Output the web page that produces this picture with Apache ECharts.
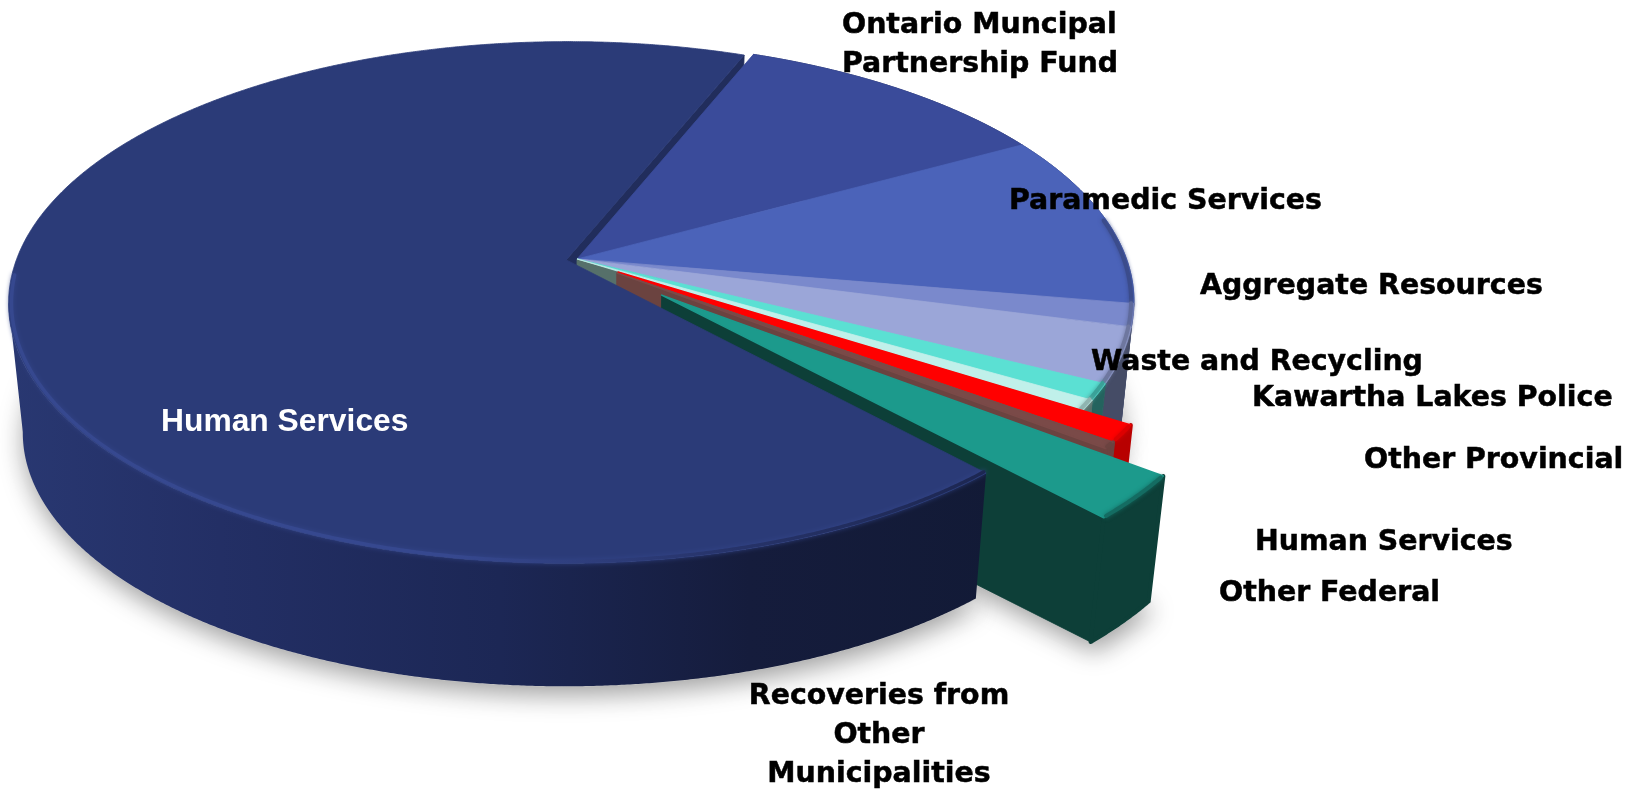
<!DOCTYPE html>
<html>
<head>
<meta charset="utf-8">
<style>html,body{margin:0;padding:0;background:#fff}#chart{width:1627px;height:794px}</style>
<script src="https://cdn.jsdelivr.net/npm/echarts@6/dist/echarts.min.js"></script>
</head>
<body>
<div id="chart"></div>
<script>
// Revenue shares in percent, clockwise
const names = ['Human Services', 'Ontario Muncipal Partnership Fund', 'Paramedic Services', 'Aggregate Resources',
  'Waste and Recycling', 'Kawartha Lakes Police', 'Other Provincial', 'Human Services', 'Other Federal',
  'Recoveries from Other Municipalities'];
const shares = [67.8, 10.9, 10.8, 1.4, 3.4, 1.0, 0.6, 1.0, 0.4, 2.7];
const explode = [0.02, 0, 0, 0, 0, 0, 0, 0.09, 0.09, 0.205];
const topColors = ['#2b3b78', '#3a4b9a', '#4b63b9', '#7a89cc', '#9ba6d8', '#5be0d3', '#c0f0ea', '#ff0000', '#7a4a48', '#1c9a8c'];
const wallColors = ['#1b2650', '#252f5c', '#2d3b6f', '#4a5270', '#454c66', '#24635e', '#56706a', '#b80000', '#6b4340', '#0d3f38'];
const rimColors = ['#3a4d96', '#3a4b9a', '#3b4c8c', '#5e6a9c', '#6e779f', '#3aa198', '#8fb4b0', '#dd0000', '#6b4340', '#146c62'];
const drawOrder = [1, 2, 3, 4, 5, 6, 7, 8, 9, 0];

// Text placed around the pie
const labelLines = [
  [['Ontario Muncipal', 'Partnership Fund'], 842, 26, 'left'],
  [['Paramedic Services'], 1009, 202, 'left'],
  [['Aggregate Resources'], 1200, 287, 'left'],
  [['Waste and Recycling'], 1091, 363, 'left'],
  [['Kawartha Lakes Police'], 1252, 399, 'left'],
  [['Other Provincial'], 1364, 461, 'left'],
  [['Human Services'], 1255, 543, 'left'],
  [['Other Federal'], 1219, 594, 'left'],
  [['Recoveries from', 'Other', 'Municipalities'], 879, 697, 'center']
];
const mainLabel = ['Human Services', 161, 422];

// Disk projection: a tilted circle seen in perspective, with a lower copy for the base
const hub = [577, 259];
const radiusX = 549.5, radiusY = 253.6, tilt = 0.163;
const baseScale = 0.975, thickness = 130.6;
const startAngle = 47.62;
const RAD = Math.PI / 180;
const leftTangent = 180 - Math.asin(tilt) / RAD;

function project(X, Y, base) {
  const w = 1 / (1 - tilt * Y);
  const px = radiusX * X * w, py = radiusY * Y * w;
  return base
    ? [hub[0] + px * baseScale, hub[1] + py * baseScale + thickness]
    : [hub[0] + px, hub[1] + py];
}

function sliceAngles() {
  const total = shares.reduce((a, b) => a + b, 0);
  const out = [];
  let a = startAngle;
  shares.forEach(v => {
    const b = a + v / total * 360;
    out.push([a, b]);
    a = b;
  });
  return out;
}
const angles = sliceAngles();

function offsetOf(i) {
  const mid = (angles[i][0] + angles[i][1]) / 2 * RAD;
  return [explode[i] * Math.cos(mid), explode[i] * Math.sin(mid)];
}
function rimPoints(i, from, to, base, r) {
  const off = offsetOf(i), pts = [];
  const n = Math.max(2, Math.ceil(Math.abs(to - from) * 4));
  const R = r || 1;
  for (let k = 0; k <= n; k++) {
    const t = (from + (to - from) * k / n) * RAD;
    pts.push(project(off[0] + R * Math.cos(t), off[1] + R * Math.sin(t), base));
  }
  return pts;
}
function apex(i, base) {
  const off = offsetOf(i);
  return project(off[0], off[1], base);
}
function poly(points, fill, z2, extra) {
  const plain = typeof fill === 'string';
  return {
    type: 'polygon', z2, silent: true, shape: { points },
    style: Object.assign({ fill, stroke: plain ? fill : null, lineWidth: plain ? 0.8 : 0 }, extra || {})
  };
}
function radialWall(i, angle, color, z2) {
  const rimTop = rimPoints(i, angle, angle + 0.01, false)[0];
  const rimBase = rimPoints(i, angle, angle + 0.01, true)[0];
  return poly([apex(i, false), rimTop, rimBase, apex(i, true)], color, z2);
}

function renderSlice(params, api) {
  const i = params.dataIndex;
  const rank = drawOrder.indexOf(i);
  const z = 20 + rank * 10;
  const [a0, a1] = angles[i];
  const children = [];

  // Soft ground shadow under the base of the slice
  const base = [apex(i, true)].concat(rimPoints(i, a0, a1, true));
  children.push(poly(base, '#c9c9c9', 1, {
    shadowBlur: 26, shadowColor: 'rgba(0,0,0,0.38)', shadowOffsetX: 2, shadowOffsetY: 8
  }));

  if (i === 0) {
    // Cut face seen in the gap next to the Ontario slice
    children.push(radialWall(0, a1, '#212d5c', 5));
    const top = rimPoints(0, a0, leftTangent, false);
    const bottom = rimPoints(0, a0, leftTangent, true).reverse();
    const sideFill = new echarts.graphic.LinearGradient(0, 0, 1000, 0, [
      { offset: 0, color: '#293872' }, { offset: 0.22, color: '#232f65' },
      { offset: 0.5, color: '#1c2755' }, { offset: 0.75, color: '#151c3c' }, { offset: 1, color: '#121a36' }
    ], true);
    children.push(poly(top.concat(bottom), sideFill, z));
    children.push(poly([apex(0, false)].concat(rimPoints(0, a0, a1, false)), topColors[0], z + 1));
    const bevel = new echarts.graphic.LinearGradient(0, 0, 1000, 0, [
      { offset: 0, color: '#36488f' }, { offset: 0.45, color: '#36488f' },
      { offset: 0.72, color: '#27346b' }, { offset: 1, color: '#1c2650' }
    ], true);
    children.push({
      type: 'polyline', z2: z + 2, silent: true,
      shape: { points: rimPoints(0, a0, leftTangent + 6, false, 0.995) },
      style: { stroke: bevel, lineWidth: 3.5, fill: null, shadowBlur: 5, shadowColor: '#33458a', lineCap: 'round' }
    });
  } else {
    if (i === 6 || i === 8 || i === 9) {
      children.push(radialWall(i, a1, wallColors[i], z));
    }
    // Pulled-out slices get softened corners from a thick round-joined outline
    const pulled = i >= 7;
    const inset = pulled ? 0.996 : 1;
    const soft = pulled ? { lineWidth: 4, lineJoin: 'round' } : {};
    const top = rimPoints(i, a0, a1, false, inset);
    const bottom = rimPoints(i, a0, a1, true, inset).reverse();
    children.push(poly(top.concat(bottom), wallColors[i], z + 1, soft));
    children.push(poly([apex(i, false)].concat(top), topColors[i], z + 2, pulled ? { lineWidth: 1.5, lineJoin: 'round' } : {}));
    const from = Math.max(a0 > 180 ? a0 - 360 : a0, -9);
    const to = a1 > 180 ? a1 - 360 : a1;
    if (to > from) {
      children.push({
        type: 'polyline', z2: z + 3, silent: true,
        shape: { points: rimPoints(i, from + (pulled ? 0.4 : 0), to - (pulled ? 0.4 : 0), false, 0.995) },
        style: { stroke: rimColors[i], lineWidth: 4, fill: null, lineCap: 'round', shadowBlur: 4, shadowColor: rimColors[i] }
      });
    }
  }
  return { type: 'group', children };
}

function textItem(text, x, y, align, font, fill, weight) {
  return {
    type: 'text', z2: 500, silent: true,
    style: { text, x, y, align, verticalAlign: 'middle', font, fill, stroke: fill, lineWidth: weight }
  };
}

function renderLabels() {
  const children = [];
  labelLines.forEach(([lines, x, y, align]) => {
    lines.forEach((line, k) => {
      children.push(textItem(line, x, y + k * 38.6, align, 'bold 28.4px "DejaVu Sans"', '#000', 0.5));
    });
  });
  children.push(textItem(mainLabel[0], mainLabel[1], mainLabel[2], 'left', 'bold 31.8px "Liberation Sans"', '#fff', 0));
  return { type: 'group', children };
}

const chart = echarts.init(document.getElementById('chart'));
chart.setOption({
  animation: false,
  backgroundColor: '#ffffff',
  series: [
    {
      type: 'custom', coordinateSystem: 'none', silent: true,
      data: shares.map((v, i) => ({ name: names[i], value: [v] })),
      renderItem: renderSlice
    },
    {
      type: 'custom', coordinateSystem: 'none', silent: true, z: 5,
      data: [[0]],
      renderItem: renderLabels
    }
  ]
});
</script>
</body>
</html>
